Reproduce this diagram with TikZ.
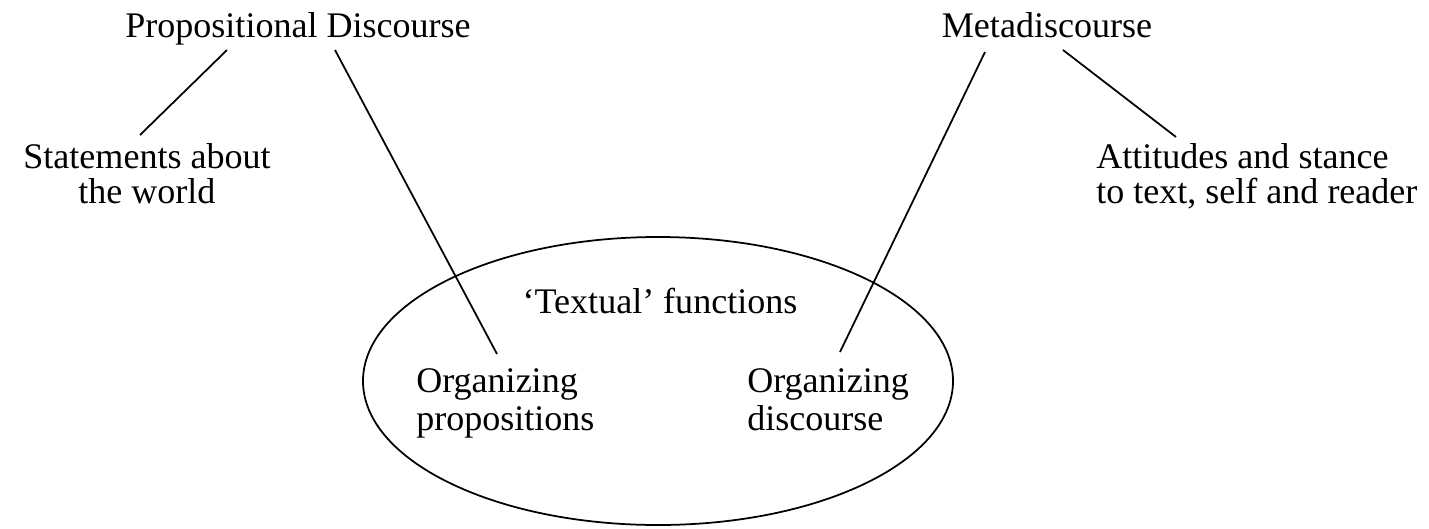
\documentclass[tikz,border=0pt]{standalone}
\usepackage{fontspec}
\setmainfont{Liberation Serif}
\usepackage{tikz}
\usetikzlibrary{arrows,shapes}
\tikzstyle{label}=[inner sep=0pt,font=\fontsize{20.5}{20}\selectfont]
\tikzstyle{inlabel}=[inner sep=0pt,align=left,anchor=north west,font=\fontsize{20.5}{22}\selectfont]
\tikzstyle{edge} = [draw,line width=1pt,-]

\begin{document}
\begin{tikzpicture}[scale=1]
        \useasboundingbox (0,0) rectangle (28.58,-10.56);
        \node[label,anchor=base] (pd) at (5.96,-0.74) {Propositional Discourse};
        \node[label,anchor=base] (md) at (20.94,-0.74) {Metadiscourse};
        \node[label,align=center,anchor=north] (sw) at (2.94,-2.86) {Statements about\\the world};
        \node[label,align=left,anchor=north west] (at) at (21.92,-2.86) {Attitudes and stance\\to text, self and reader};
        \node[draw,line width=1pt,ellipse,inner sep=0pt,minimum width=11.8cm,minimum height=5.76cm] (tf) at (13.16,-7.62) {};
        \node[label,anchor=base] (tt) at (13.2,-6.26) {`Textual' functions};
        \node[inlabel] (op) at (8.32,-7.36) {Organizing\\propositions};
        \node[inlabel] (od) at (14.94,-7.36) {Organizing\\discourse};
        \draw[edge] ([xshift=-1.42cm,yshift=-0.26cm]pd.base) -- ([xshift=-0.14cm,yshift=0.16cm]sw.north);
        \draw[edge] ([xshift=0.74cm,yshift=-0.26cm]pd.base) -- ([xshift=1.62cm,yshift=0.28cm]op.north west);
        \draw[edge] ([xshift=-1.24cm,yshift=-0.3cm]md.base) -- ([xshift=1.86cm,yshift=0.32cm]od.north west);
        \draw[edge] ([xshift=0.32cm,yshift=-0.26cm]md.base) -- ([xshift=1.6cm,yshift=0.12cm]at.north west);
      \end{tikzpicture}
\end{document}
